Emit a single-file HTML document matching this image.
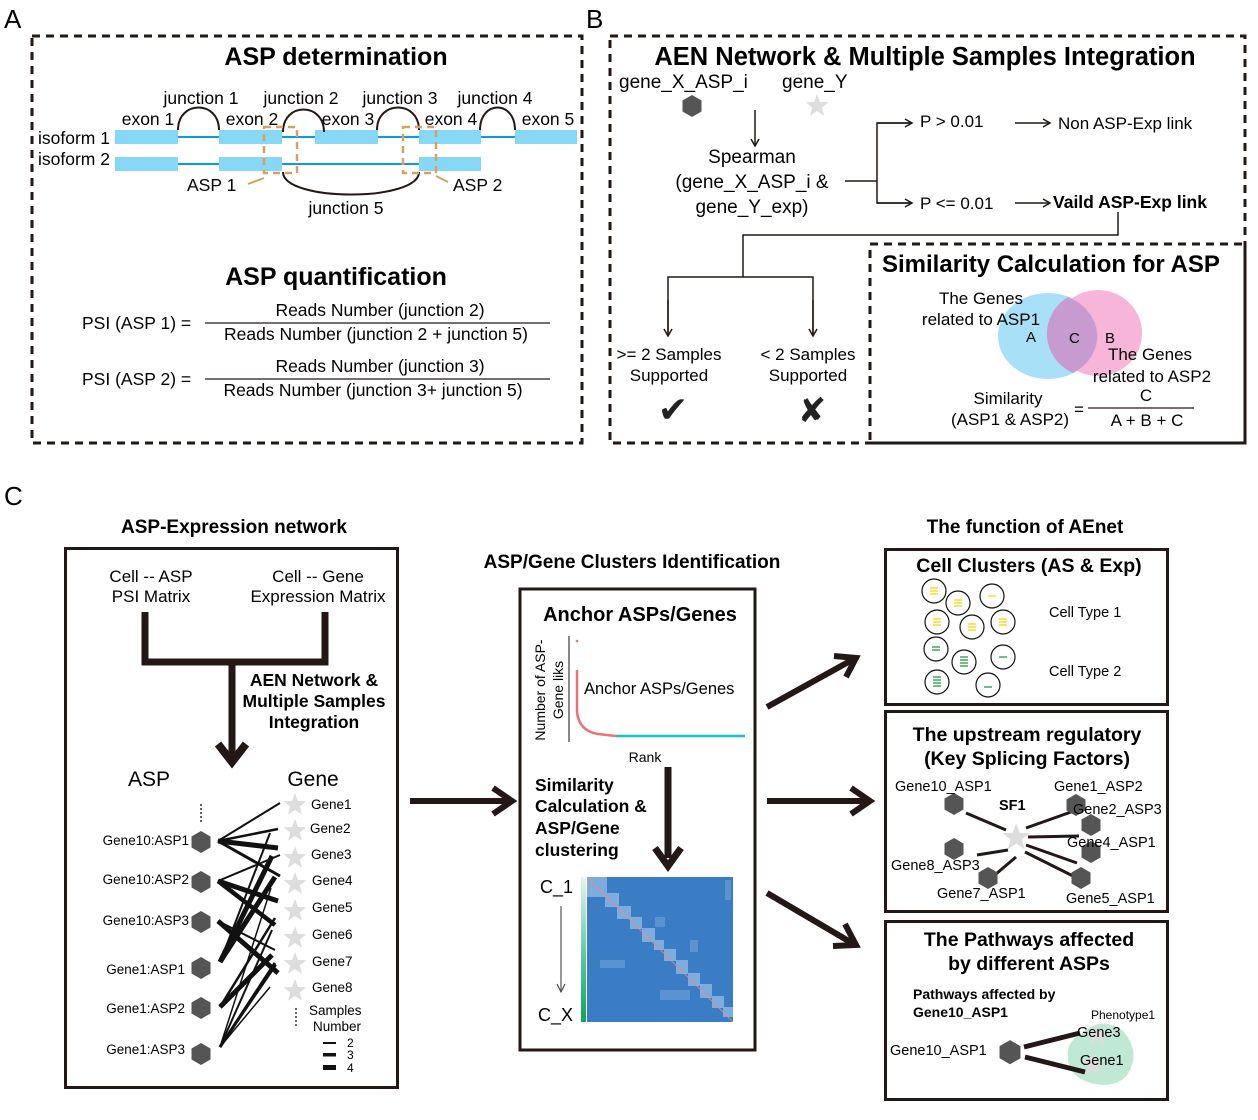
<!DOCTYPE html>
<html><head><meta charset="utf-8"><style>
html,body{margin:0;padding:0;background:#fff}
svg{display:block;font-family:"Liberation Sans",Arial,sans-serif}
.b{font-weight:bold}
</style></head><body>
<svg width="1258" height="1120" viewBox="0 0 1258 1120" xmlns="http://www.w3.org/2000/svg">
<defs>
<polygon id="hx" points="0,-11 9.5,-5.5 9.5,5.5 0,11 -9.5,5.5 -9.5,-5.5" fill="#555"/>
<polygon id="st" points="0,-12 2.94,-4.05 11.4,-3.7 4.76,1.55 7.05,9.7 0,5 -7.05,9.7 -4.76,1.55 -11.4,-3.7 -2.94,-4.05" fill="#ddd"/>
<marker id="ar" markerWidth="10" markerHeight="10" refX="8" refY="5" orient="auto" markerUnits="userSpaceOnUse"><path d="M1,1 L8,5 L1,9" fill="none" stroke="#231815" stroke-width="1.5"/></marker>
</defs>

<text x="4" y="28" font-size="26">A</text>
<text x="586" y="28" font-size="26">B</text>
<text x="4" y="505" font-size="26">C</text>

<!-- ========== Panel A ========== -->
<rect x="32" y="36" width="550" height="407" fill="none" stroke="#231815" stroke-width="3" stroke-dasharray="8,6"/>
<text x="336" y="65" font-size="25" class="b" text-anchor="middle">ASP determination</text>
<g font-size="17.5">
<text x="201" y="104" text-anchor="middle">junction 1</text>
<text x="301" y="104" text-anchor="middle">junction 2</text>
<text x="400" y="104" text-anchor="middle">junction 3</text>
<text x="495" y="104" text-anchor="middle">junction 4</text>
<text x="148" y="125" text-anchor="middle">exon 1</text>
<text x="252" y="125" text-anchor="middle">exon 2</text>
<text x="348" y="125" text-anchor="middle">exon 3</text>
<text x="451" y="125" text-anchor="middle">exon 4</text>
<text x="548" y="125" text-anchor="middle">exon 5</text>
<text x="38" y="144">isoform 1</text>
<text x="38" y="165">isoform 2</text>
<text x="187" y="191">ASP 1</text>
<text x="453" y="191">ASP 2</text>
<text x="346" y="214" text-anchor="middle">junction 5</text>
</g>
<g stroke="#0a9be0" stroke-width="2"><line x1="115" y1="137" x2="577" y2="137"/><line x1="115" y1="164" x2="481" y2="164"/></g>
<g fill="#87d7f7">
<rect x="115" y="130" width="63" height="14"/><rect x="219" y="130" width="63" height="14"/><rect x="315" y="130" width="63" height="14"/><rect x="419" y="130" width="62" height="14"/><rect x="515" y="130" width="62" height="14"/>
<rect x="115" y="157" width="63" height="14"/><rect x="219" y="157" width="63" height="14"/><rect x="419" y="157" width="62" height="14"/>
</g>
<g fill="none" stroke="#231815" stroke-width="2">
<path d="M178,130 C178,100 219,100 219,130"/>
<path d="M283,132 C283,102 324,102 324,132"/>
<path d="M377,130 C377,100 419,100 419,130"/>
<path d="M480,130 C480,100 515,100 515,130"/>
<path d="M283,172 C283,202 419,202 419,172"/>
</g>
<g fill="none" stroke="#d4a262" stroke-width="2.5" stroke-dasharray="7,5">
<rect x="264" y="127" width="33" height="46"/><rect x="403" y="127" width="33" height="46"/>
</g>
<g stroke="#d4a262" stroke-width="2"><line x1="248" y1="184" x2="264" y2="178"/><line x1="436" y1="176" x2="448" y2="182"/></g>
<text x="336" y="285" font-size="25" class="b" text-anchor="middle">ASP quantification</text>
<g font-size="17.5">
<text x="82" y="329">PSI (ASP 1) =</text>
<text x="380" y="316" text-anchor="middle">Reads Number (junction 2)</text>
<text x="376" y="340" text-anchor="middle">Reads Number (junction 2 + junction 5)</text>
<text x="82" y="385">PSI (ASP 2) =</text>
<text x="380" y="372" text-anchor="middle">Reads Number (junction 3)</text>
<text x="373" y="396" text-anchor="middle">Reads Number (junction 3+ junction 5)</text>
</g>
<g stroke="#231815" stroke-width="1.2"><line x1="205" y1="323" x2="550" y2="323"/><line x1="205" y1="379" x2="550" y2="379"/></g>

<!-- ========== Panel B ========== -->
<rect x="610" y="36" width="635" height="407" fill="none" stroke="#231815" stroke-width="3" stroke-dasharray="8,6"/>
<text x="925" y="65" font-size="25.5" class="b" text-anchor="middle">AEN Network &amp; Multiple Samples Integration</text>
<g font-size="19">
<text x="619" y="88">gene_X_ASP_i</text>
<text x="782" y="88">gene_Y</text>
<text x="752" y="163" text-anchor="middle">Spearman</text>
<text x="752" y="188" text-anchor="middle">(gene_X_ASP_i &amp;</text>
<text x="752" y="213" text-anchor="middle">gene_Y_exp)</text>
</g>
<use href="#hx" x="692" y="106"/><use href="#st" x="817" y="106"/>
<g fill="none" stroke="#231815" stroke-width="1.5">
<line x1="755" y1="110" x2="755" y2="146" marker-end="url(#ar)"/>
<polyline points="845,181 877,181"/>
<polyline points="910,123 877,123 877,203 910,203"/>
<line x1="877" y1="123" x2="912" y2="123" marker-end="url(#ar)"/>
<line x1="877" y1="203" x2="912" y2="203" marker-end="url(#ar)"/>
<line x1="1015" y1="123" x2="1050" y2="123" marker-end="url(#ar)"/>
<line x1="1015" y1="203" x2="1050" y2="203" marker-end="url(#ar)"/>
<polyline points="1118,212 1118,235 743,235 743,277"/>
<polyline points="668,335 668,277 813,277 813,335"/>
<line x1="668" y1="300" x2="668" y2="336" marker-end="url(#ar)"/>
<line x1="813" y1="300" x2="813" y2="336" marker-end="url(#ar)"/>
</g>
<g font-size="17">
<text x="920" y="127">P &gt; 0.01</text>
<text x="920" y="209">P &lt;= 0.01</text>
<text x="1058" y="129">Non ASP-Exp link</text>
<text x="1053" y="208" class="b" font-size="17.5">Vaild ASP-Exp link</text>
<text x="669" y="360" text-anchor="middle">&gt;= 2 Samples</text>
<text x="669" y="381" text-anchor="middle">Supported</text>
<text x="808" y="360" text-anchor="middle">&lt; 2 Samples</text>
<text x="808" y="381" text-anchor="middle">Supported</text>
</g>
<text x="673" y="422" font-size="36" text-anchor="middle" fill="#222">✔</text>
<text x="812" y="422" font-size="34" text-anchor="middle" fill="#222">✘</text>
<rect x="870" y="244" width="375" height="199" fill="none" stroke="#231815" stroke-width="3" stroke-dasharray="8,6"/>
<text x="882" y="272" font-size="24" class="b">Similarity Calculation for ASP</text>
<ellipse cx="1048" cy="336" rx="50" ry="43" fill="#a8e0f7"/>
<ellipse cx="1098" cy="333" rx="44" ry="43" fill="#f7a8d4" fill-opacity="0.85"/>
<path d="M1068,297 A44,43 0 0,0 1073,373 A50,43 0 0,0 1070,298Z" fill="#c79ad0"/>
<g font-size="17">
<text x="981" y="304" text-anchor="middle">The Genes</text>
<text x="981" y="325" text-anchor="middle">related to ASP1</text>
<text x="1026" y="342" font-size="15">A</text>
<text x="1069" y="343" font-size="15">C</text>
<text x="1105" y="343" font-size="15">B</text>
<text x="1150" y="360" text-anchor="middle">The Genes</text>
<text x="1152" y="382" text-anchor="middle">related to ASP2</text>
<text x="1008" y="404" text-anchor="middle">Similarity</text>
<text x="1010" y="425" text-anchor="middle">(ASP1 &amp; ASP2)</text>
<text x="1074" y="415">=</text>
<text x="1146" y="401" text-anchor="middle">C</text>
<text x="1147" y="426" text-anchor="middle">A + B + C</text>
</g>
<line x1="1088" y1="408" x2="1194" y2="408" stroke="#231815" stroke-width="1.2"/>

<!-- ========== Panel C ========== -->
<text x="234" y="533" font-size="19" class="b" text-anchor="middle">ASP-Expression network</text>
<text x="632" y="568" font-size="19" class="b" text-anchor="middle">ASP/Gene Clusters Identification</text>
<text x="1025" y="533" font-size="19" class="b" text-anchor="middle">The function of AEnet</text>

<rect x="65.5" y="548.5" width="332" height="539" fill="none" stroke="#231815" stroke-width="3"/>
<g font-size="17" text-anchor="middle">
<text x="151" y="582">Cell -- ASP</text>
<text x="151" y="602">PSI Matrix</text>
<text x="318" y="582">Cell -- Gene</text>
<text x="318" y="602">Expression Matrix</text>
</g>
<g fill="none" stroke="#231815" stroke-width="7">
<polyline points="145,612 145,662 325,662 325,612"/>
<line x1="232" y1="662" x2="232" y2="758"/>
<polyline points="218,744 232,762 246,744" stroke-width="8"/>
</g>
<g font-size="17.5" class="b" text-anchor="middle">
<text x="314" y="686">AEN Network &amp;</text>
<text x="314" y="707">Multiple Samples</text>
<text x="314" y="728">Integration</text>
</g>
<text x="149" y="786" font-size="21" text-anchor="middle">ASP</text>
<text x="313" y="786" font-size="21" text-anchor="middle">Gene</text>
<line x1="201" y1="804" x2="201" y2="822" stroke="#333" stroke-width="1.5" stroke-dasharray="2,2"/>
<line x1="296" y1="1008" x2="296" y2="1028" stroke="#333" stroke-width="1.5" stroke-dasharray="2,2"/>
<g font-size="13.5" text-anchor="end">
<text x="189" y="845">Gene10:ASP1</text>
<text x="189" y="884">Gene10:ASP2</text>
<text x="189" y="925">Gene10:ASP3</text>
<text x="185" y="974">Gene1:ASP1</text>
<text x="185" y="1013">Gene1:ASP2</text>
<text x="185" y="1054">Gene1:ASP3</text>
</g>
<g stroke="#111" stroke-linecap="butt">
<line x1="218" y1="841" x2="280" y2="803" stroke-width="2"/>
<line x1="218" y1="841" x2="278" y2="829" stroke-width="2.5"/>
<line x1="218" y1="841" x2="278" y2="848" stroke-width="5"/>
<line x1="218" y1="841" x2="280" y2="876" stroke-width="3"/>
<line x1="218" y1="881" x2="280" y2="855" stroke-width="2"/>
<line x1="218" y1="881" x2="278" y2="901" stroke-width="5"/>
<line x1="218" y1="881" x2="275" y2="925" stroke-width="4.5"/>
<line x1="218" y1="921" x2="278" y2="973" stroke-width="5"/>
<line x1="218" y1="921" x2="275" y2="950" stroke-width="2"/>
<line x1="220" y1="962" x2="272" y2="856" stroke-width="5"/>
<line x1="220" y1="962" x2="275" y2="877" stroke-width="5"/>
<line x1="220" y1="962" x2="270" y2="833" stroke-width="2"/>
<line x1="220" y1="1007" x2="272" y2="955" stroke-width="5"/>
<line x1="220" y1="1007" x2="275" y2="918" stroke-width="2.5"/>
<line x1="220" y1="1047" x2="275" y2="963" stroke-width="3"/>
<line x1="220" y1="1047" x2="272" y2="930" stroke-width="2"/>
<line x1="220" y1="1047" x2="271" y2="888" stroke-width="1.5"/>
<line x1="220" y1="1047" x2="270" y2="987" stroke-width="1.5"/>
<line x1="220" y1="1047" x2="276" y2="965" stroke-width="2"/>
</g>
<use href="#hx" x="201" y="842"/><use href="#hx" x="201" y="882"/><use href="#hx" x="201" y="922"/>
<use href="#hx" x="201" y="968"/><use href="#hx" x="201" y="1008"/><use href="#hx" x="201" y="1054"/>
<g>
<use href="#st" x="295" y="805"/><use href="#st" x="295" y="831"/><use href="#st" x="295" y="858"/><use href="#st" x="295" y="884"/>
<use href="#st" x="295" y="911"/><use href="#st" x="295" y="938"/><use href="#st" x="295" y="964"/><use href="#st" x="295" y="991"/>
</g>
<g font-size="13.5">
<text x="311" y="809">Gene1</text><text x="310" y="833">Gene2</text><text x="311" y="859">Gene3</text><text x="312" y="885">Gene4</text>
<text x="312" y="912">Gene5</text><text x="312" y="939">Gene6</text><text x="312" y="966">Gene7</text><text x="312" y="992">Gene8</text>
<text x="309" y="1015">Samples</text><text x="313" y="1031">Number</text>
<text x="347" y="1047" font-size="12">2</text><text x="347" y="1059" font-size="12">3</text><text x="347" y="1072" font-size="12">4</text>
</g>
<g fill="#111"><rect x="323" y="1042" width="13" height="2"/><rect x="323" y="1053" width="13" height="3.5"/><rect x="323" y="1065" width="13" height="5"/></g>

<g stroke="#231815" stroke-width="6" fill="none">
<line x1="410" y1="801" x2="508" y2="801"/><polyline points="493,788 512,801 493,814"/>
<line x1="767" y1="707" x2="852" y2="660"/><polyline points="834,656 856,658 846,677"/>
<line x1="767" y1="801" x2="866" y2="801"/><polyline points="851,788 870,801 851,814"/>
<line x1="767" y1="893" x2="852" y2="943"/><polyline points="845,924 856,945 833,946"/>
</g>

<rect x="520" y="589" width="235" height="461" fill="none" stroke="#231815" stroke-width="3"/>
<text x="640" y="621" font-size="20" class="b" text-anchor="middle">Anchor ASPs/Genes</text>
<line x1="569" y1="636" x2="569" y2="742" stroke="#111" stroke-width="1"/>
<text transform="translate(545,690) rotate(-90)" font-size="14" text-anchor="middle">Number of ASP-</text>
<text transform="translate(563,690) rotate(-90)" font-size="14" text-anchor="middle">Gene liks</text>
<circle cx="577" cy="641" r="1.3" fill="#f07070"/>
<path d="M577,670 L577,712 Q579,731 598,734 L616,736" fill="none" stroke="#f07070" stroke-width="2.5"/>
<line x1="616" y1="736" x2="745" y2="736" stroke="#1bbfc6" stroke-width="2.5"/>
<text x="584" y="694" font-size="16.5">Anchor ASPs/Genes</text>
<text x="645" y="762" font-size="14" text-anchor="middle">Rank</text>
<g font-size="17.5" class="b">
<text x="535" y="791">Similarity</text><text x="535" y="812">Calculation &amp;</text><text x="535" y="834">ASP/Gene</text><text x="535" y="856">clustering</text>
</g>
<line x1="668" y1="767" x2="668" y2="858" stroke="#231815" stroke-width="7"/>
<polyline points="655,848 668,866 681,848" fill="none" stroke="#231815" stroke-width="7"/>
<text x="540" y="893" font-size="18">C_1</text>
<text x="538" y="1021" font-size="18">C_X</text>
<line x1="561" y1="906" x2="561" y2="990" stroke="#333" stroke-width="1"/>
<polyline points="557,984 561,992 565,984" fill="none" stroke="#333" stroke-width="1"/>
<defs><linearGradient id="gb" x1="0" y1="0" x2="0" y2="1"><stop offset="0" stop-color="#e6f5f2"/><stop offset="0.6" stop-color="#4fc39a"/><stop offset="1" stop-color="#0ea65a"/></linearGradient></defs>
<rect x="581" y="877" width="5" height="145" fill="url(#gb)"/>
<rect x="587" y="877" width="146" height="145" fill="#3b7dc4"/>
<g fill="#8fb8e2" opacity="0.8">
<rect x="587" y="877" width="20" height="20"/><rect x="605" y="893" width="14" height="14"/><rect x="617" y="906" width="14" height="13"/>
<rect x="630" y="917" width="12" height="12"/><rect x="642" y="928" width="13" height="14"/><rect x="654" y="940" width="10" height="10"/>
<rect x="664" y="949" width="12" height="12"/><rect x="676" y="960" width="12" height="14"/><rect x="688" y="973" width="12" height="13"/>
<rect x="700" y="984" width="12" height="14"/><rect x="712" y="996" width="12" height="12"/><rect x="723" y="1007" width="10" height="10"/>
</g>
<g fill="#6fa3d8" opacity="0.6">
<rect x="655" y="917" width="10" height="10"/><rect x="690" y="940" width="8" height="12"/><rect x="600" y="960" width="25" height="8"/><rect x="660" y="990" width="30" height="10"/><rect x="725" y="880" width="6" height="20"/>
</g>
<line x1="587" y1="877" x2="733" y2="1022" stroke="#e88" stroke-width="0.8"/>

<rect x="885.5" y="549.5" width="282" height="155" fill="none" stroke="#231815" stroke-width="3"/>
<text x="1029" y="572" font-size="19.5" class="b" text-anchor="middle">Cell Clusters (AS &amp; Exp)</text>
<g fill="#fff" stroke="#111" stroke-width="1.2">
<circle cx="934" cy="591" r="12"/><circle cx="958" cy="603" r="12"/><circle cx="992" cy="596" r="12"/>
<circle cx="937" cy="622" r="12"/><circle cx="972" cy="627" r="12"/><circle cx="1003" cy="622" r="12"/>
<circle cx="936" cy="649" r="12"/><circle cx="964" cy="662" r="12"/><circle cx="1003" cy="657" r="12"/>
<circle cx="937" cy="682" r="12"/><circle cx="988" cy="685" r="12"/>
</g>
<g stroke="#f5d800" stroke-width="1.2">
<path d="M930,588h8M930,591h8M930,594h8 M954,600h8M954,603h8M954,606h8 M988,596h8 M933,619h8M933,622h8M933,625h8 M968,624h8M968,627h8M968,630h8 M999,619h8M999,622h8M999,625h8"/>
</g>
<g stroke="#1a9a3a" stroke-width="1.2">
<path d="M932,647h8M932,650h8 M960,657h8M960,660h8M960,663h8M960,666h8 M999,657h8 M933,677h8M933,680h8M933,683h8M933,686h8 M984,687h8"/>
</g>
<text x="1049" y="617" font-size="14.5">Cell Type 1</text>
<text x="1049" y="676" font-size="14.5">Cell Type 2</text>

<rect x="885.5" y="711.5" width="282" height="200" fill="none" stroke="#231815" stroke-width="3"/>
<text x="1027" y="741" font-size="19.5" class="b" text-anchor="middle">The upstream regulatory</text>
<text x="1027" y="765" font-size="19.5" class="b" text-anchor="middle">(Key Splicing Factors)</text>
<g stroke="#231815" stroke-width="3">
<line x1="966" y1="813" x2="1006" y2="830"/><line x1="1026" y1="828" x2="1071" y2="812"/>
<line x1="1028" y1="837" x2="1079" y2="836"/><line x1="1026" y1="845" x2="1077" y2="863"/>
<line x1="1025" y1="852" x2="1073" y2="876"/><line x1="977" y1="855" x2="1008" y2="850"/>
<line x1="996" y1="874" x2="1016" y2="857"/>
</g>
<use href="#st" x="1016" y="838" transform="translate(-203 -168) scale(1.2)"/>
<use href="#hx" x="954" y="804"/><use href="#hx" x="1076" y="805"/><use href="#hx" x="1091" y="825"/>
<use href="#hx" x="1091" y="852"/><use href="#hx" x="954" y="849"/><use href="#hx" x="988" y="878"/><use href="#hx" x="1081" y="878"/>
<g font-size="14.5">
<text x="895" y="791">Gene10_ASP1</text><text x="999" y="810" class="b">SF1</text>
<text x="1054" y="791">Gene1_ASP2</text><text x="1073" y="814">Gene2_ASP3</text>
<text x="1067" y="847">Gene4_ASP1</text><text x="891" y="870">Gene8_ASP3</text>
<text x="937" y="898">Gene7_ASP1</text><text x="1066" y="903">Gene5_ASP1</text>
</g>

<rect x="885.5" y="921.5" width="282" height="178" fill="none" stroke="#231815" stroke-width="3"/>
<text x="1029" y="946" font-size="19.5" class="b" text-anchor="middle">The Pathways affected</text>
<text x="1029" y="970" font-size="19.5" class="b" text-anchor="middle">by different ASPs</text>
<text x="913" y="999" font-size="14" class="b">Pathways affected by</text>
<text x="913" y="1017" font-size="14" class="b">Gene10_ASP1</text>
<path d="M1080,1035 Q1100,1015 1122,1030 Q1140,1050 1130,1070 Q1120,1090 1090,1083 Q1065,1075 1068,1050 Q1070,1040 1080,1035Z" fill="#bfe8d5"/>
<use href="#st" x="1097" y="1035" style="fill:#a5cfb8"/>
<use href="#st" x="1093" y="1065" style="fill:#a5cfb8"/>
<g stroke="#231815" stroke-width="5">
<line x1="1024" y1="1047" x2="1080" y2="1033"/><line x1="1025" y1="1057" x2="1085" y2="1072"/>
</g>
<use href="#hx" x="1010" y="1052" transform="translate(-101 -105) scale(1.1)"/>
<g font-size="14.5">
<text x="1091" y="1019" font-size="12">Phenotype1</text>
<text x="1077" y="1037">Gene3</text><text x="1080" y="1065">Gene1</text>
<text x="890" y="1055">Gene10_ASP1</text>
</g>
</svg>
</body></html>
